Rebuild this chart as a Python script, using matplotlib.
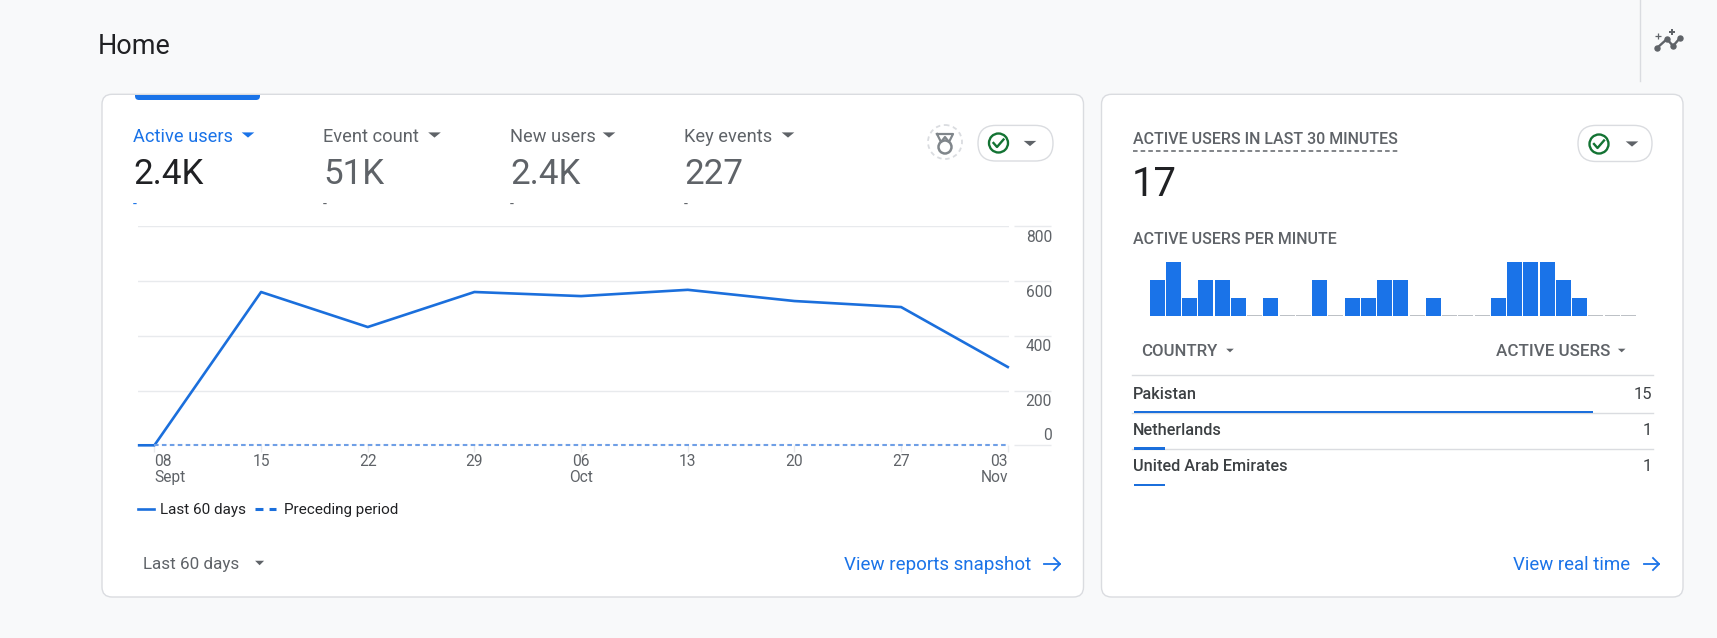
import matplotlib
matplotlib.use("Agg")
import matplotlib.pyplot as plt
from matplotlib.patches import FancyBboxPatch, Rectangle, Circle, Polygon
from matplotlib.transforms import ScaledTranslation

plt.rcParams['font.family'] = ['Roboto', 'DejaVu Sans']

# ---------- data ----------
day_offsets = [-1, 0, 7, 14, 21, 28, 35, 42, 49, 56]
active_users = [0, 0, 560, 432, 560, 545, 568, 527, 505, 286]
preceding_offsets = [0, 7, 14, 21, 28, 35, 42, 49, 56]
preceding_users = [0, 0, 0, 0, 0, 0, 0, 0, 0]
x_tick_days = [0, 7, 14, 21, 28, 35, 42, 49, 56]
x_tick_labels = ["08\nSept", "15", "22", "29", "06\nOct", "13", "20", "27", "03\nNov"]
y_ticks = [0, 200, 400, 600, 800]
y_tick_labels = ["0", "200", "400", "600", "800"]
per_minute = [2, 3, 1, 2, 2, 1, 0, 1, 0, 0, 2, 0, 1, 1, 2, 2, 0, 1, 0, 0, 0, 1, 3, 3, 3, 2, 1, 0, 0, 0]
metric_names = ["Active users", "Event count", "New users", "Key events"]
metric_values = ["2.4K", "51K", "2.4K", "227"]
countries = ["Pakistan", "Netherlands", "United Arab Emirates"]
country_users = [15, 1, 1]

BLUE = "#1a73e8"
LINE = "#1b6fdc"
GRAY = "#5f6368"
DARK = "#202124"
BORDER = "#dadce0"
GRID = "#e8eaed"
BG = "#f8f9fa"
W, H = 1717, 638

fig = plt.figure(figsize=(W / 100, H / 100), dpi=100, facecolor=BG)
bg = fig.add_axes([0, 0, 1, 1], zorder=0)
bg.set_xlim(0, W)
bg.set_ylim(H, 0)
bg.axis("off")


def T(x, y, s, px, color=GRAY, ha="left", weight="normal", a=bg, **kw):
    return a.text(x, y, s, fontsize=px * 0.72, color=color, ha=ha, va="baseline",
                  fontweight=weight, **kw)


def tri(cx, cy, color=GRAY, w=6.3, h=5.2):
    bg.add_patch(Polygon([(cx - w, cy - h / 2), (cx + w, cy - h / 2), (cx, cy + h / 2)],
                         closed=True, fc=color, ec="none", zorder=5))


def card(x0, y0, x1, y1):
    bg.add_patch(FancyBboxPatch((x0, y0), x1 - x0, y1 - y0,
                                boxstyle="round,pad=0,rounding_size=10",
                                fc="white", ec=BORDER, lw=1.0, zorder=1))


def pill(x0, x1, y0, y1):
    r = (y1 - y0) / 2
    bg.add_patch(FancyBboxPatch((x0, y0), x1 - x0, y1 - y0,
                                boxstyle=f"round,pad=0,rounding_size={r}",
                                fc="white", ec=BORDER, lw=1.0, zorder=2))


def check(cx, cy):
    g = "#137333"
    bg.add_patch(Circle((cx, cy), 9.5, fc="none", ec=g, lw=1.7, zorder=5))
    bg.plot([cx - 5, cx - 1.5, cx + 5], [cy, cy + 4, cy - 3.5], color=g, lw=1.7, zorder=5)


def arrow(x0, x1, y, color=BLUE):
    bg.plot([x0, x1], [y, y], color=color, lw=1.3, zorder=5)
    bg.plot([x1 - 6, x1, x1 - 6], [y - 6, y, y + 6], color=color, lw=1.3, zorder=5)


# ---------- page chrome ----------
T(97.5, 54, "Home", 27, color=DARK)
bg.plot([1639.5, 1639.5], [0, 81], color=BORDER, lw=1)
ix = [1657, 1667, 1673, 1680]
iy = [48, 39, 46, 38]
bg.plot(ix, iy, color=GRAY, lw=1.7, marker="o", ms=3.6)
bg.plot([1658], [36], marker="+", color=GRAY, ms=5, mew=0.9)
bg.plot([1672], [32], marker="P", color=GRAY, ms=4.5, mew=0)

card(102, 94.3, 1083.5, 597)
card(1101.5, 94.3, 1683, 597)

# blue tab
tab = FancyBboxPatch((135, 86), 125, 14, boxstyle="round,pad=0,rounding_size=4",
                     fc=BLUE, ec="none", zorder=3)
bg.add_patch(tab)
tab.set_clip_path(Rectangle((130, 94.5), 140, 10, transform=bg.transData))

# ---------- metric headers ----------
mx = [133, 323, 510, 684]
ax_tri = [248, 434.5, 609, 788]
for i, (n, v) in enumerate(zip(metric_names, metric_values)):
    c = BLUE if i == 0 else GRAY
    T(mx[i], 141.5, n, 18.3, color=c)
    tri(ax_tri[i], 135, color=c)
    T(mx[i], 184, v, 35, color=DARK if i == 0 else GRAY)
    T(mx[i], 209, "-", 14, color=BLUE if i == 0 else GRAY)

# medal icon
bg.add_patch(Circle((945, 142), 17, fc="none", ec=BORDER, lw=1.3, ls=(0, (2.5, 2)), zorder=5))
bg.add_patch(Circle((945, 147), 6.5, fc="none", ec="#80868b", lw=1.8, zorder=5))
bg.plot([937, 941, 945, 949, 953, 949, 941, 937], [134, 142, 137, 142, 134, 134, 134, 134],
        color="#80868b", lw=1.6, zorder=5)

pill(978, 1053, 125.4, 161)
check(998.5, 143)
tri(1030, 143.5)

# ---------- line chart ----------
ax = fig.add_axes([138 / W, 1 - 445.3 / H, (1009 - 138) / W, (445.3 - 226.3) / H],
                  facecolor="none", zorder=2)
ax.set_xlim(-1.076, 56.08)
ax.set_ylim(0, 800)
for s in ax.spines.values():
    s.set_visible(False)
ax.plot(day_offsets, active_users, color=LINE, lw=1.9, zorder=3, clip_on=False,
        solid_joinstyle="round")
ax.plot(preceding_offsets, preceding_users, color="#6f9fe6", lw=1.5, ls=(0, (2.2, 1.6)),
        zorder=4, clip_on=False)
ax.set_yticks(y_ticks)
ax.set_yticklabels(y_tick_labels)
ax.yaxis.tick_right()
ax.grid(axis="y", color=GRID, lw=1)
ax.tick_params(axis="y", length=0, pad=43 * 0.72, labelsize=15.5 * 0.72, labelcolor=GRAY)
ax.hlines(y_ticks, 1.0057, 1.048, transform=ax.get_yaxis_transform(), color=GRID, lw=1,
          clip_on=False)
for lab, v in zip(ax.get_yticklabels(), y_ticks):
    lab.set_ha("right")
    off = {0: 11, 200: -9, 400: -9.5, 600: -9.5, 800: -9.5}[v]
    lab.set_transform(lab.get_transform() + ScaledTranslation(0, off / 100, fig.dpi_scale_trans))
ax.set_xticks(x_tick_days)
ax.set_xticklabels(x_tick_labels)
ax.tick_params(axis="x", length=5, width=1, color=GRID, pad=1.4, labelsize=15.5 * 0.72,
               labelcolor=GRAY)
for lab, d in zip(ax.get_xticklabels(), x_tick_days):
    lab.set_linespacing(1.05)
    if d == 0:
        lab.set_ha("left")
        lab.set_multialignment("left")
    elif d == 56:
        lab.set_ha("right")
        lab.set_multialignment("right")

# legend (drawn in card space)
bg.plot([138, 154], [509, 509], color=LINE, lw=1.9, zorder=5)
T(160, 514, "Last 60 days", 15.3, color=DARK)
bg.plot([255, 276], [509, 509], color=LINE, lw=2.2, ls=(0, (2.6, 2)), zorder=5, solid_capstyle="butt")
T(284, 514, "Preceding period", 15.2, color=DARK)

# footer left card
T(143, 568.5, "Last 60 days", 17)
tri(259.6, 563, w=4.5, h=4.5)
T(844, 570, "View reports snapshot", 18.8, color=BLUE)
arrow(1044, 1060, 564)

# ---------- right card ----------
T(1132.5, 144, "ACTIVE USERS IN LAST 30 MINUTES", 16, weight="medium")
bg.plot([1132.5, 1398.5], [151, 151], color=GRAY, lw=1.1, ls=(0, (3, 2)), zorder=5)
T(1132, 196, "17", 40, color=DARK)
pill(1578, 1652, 125.4, 161.5)
check(1599, 144)
tri(1632, 144)

T(1132.7, 244.5, "ACTIVE USERS PER MINUTE", 16, weight="medium")

bar_ax = fig.add_axes([1149 / W, 1 - 315.7 / H, (1636.5 - 1149) / W, 56 / H],
                      facecolor="none", zorder=2)
bar_ax.set_xlim(-0.5, 29.5)
bar_ax.set_ylim(0, 3.11)
bar_ax.axis("off")
minutes = list(range(len(per_minute)))
bar_ax.bar(minutes, per_minute, width=0.92, color=BLUE)
bar_ax.bar(minutes, [0.055 if v == 0 else 0 for v in per_minute], width=0.92, color="#bdc1c6")

T(1141, 356.5, "COUNTRY", 16.8, weight="medium")
tri(1230, 350.5, w=3.8, h=3.6)
T(1610, 356.5, "ACTIVE USERS", 17, ha="right", weight="medium")
tri(1621.7, 350.5, w=3.8, h=3.6)
bg.plot([1132, 1653], [375.3, 375.3], color=BORDER, lw=1, zorder=2)
bg.plot([1132, 1653], [412.5, 412.5], color=BORDER, lw=1, zorder=2)
bg.plot([1132, 1653], [448.5, 448.5], color=BORDER, lw=1, zorder=2)

row_y = [399, 435, 471]
bar_y = [411.7, 448.3, 485]
bar_h = [1.9, 2.4, 1.9]
table_ax = fig.add_axes([1134 / W, 0, (1592.7 - 1134) / W, 1], facecolor="none", zorder=3)
table_ax.set_xlim(0, 15)
table_ax.set_ylim(H, 0)
table_ax.axis("off")
for c, u, y, by, bh in zip(countries, country_users, row_y, bar_y, bar_h):
    T(1132.7, y, c, 16.2, color="#3c4043", weight="medium")
    T(1652, y, str(u), 16.4, color="#3c4043", ha="right")
    table_ax.barh(by, u, height=bh, color=LINE)

T(1513, 570, "View real time", 18.7, color=BLUE)
arrow(1644, 1659, 564)

fig.savefig("out.png", dpi=100, facecolor=BG)
